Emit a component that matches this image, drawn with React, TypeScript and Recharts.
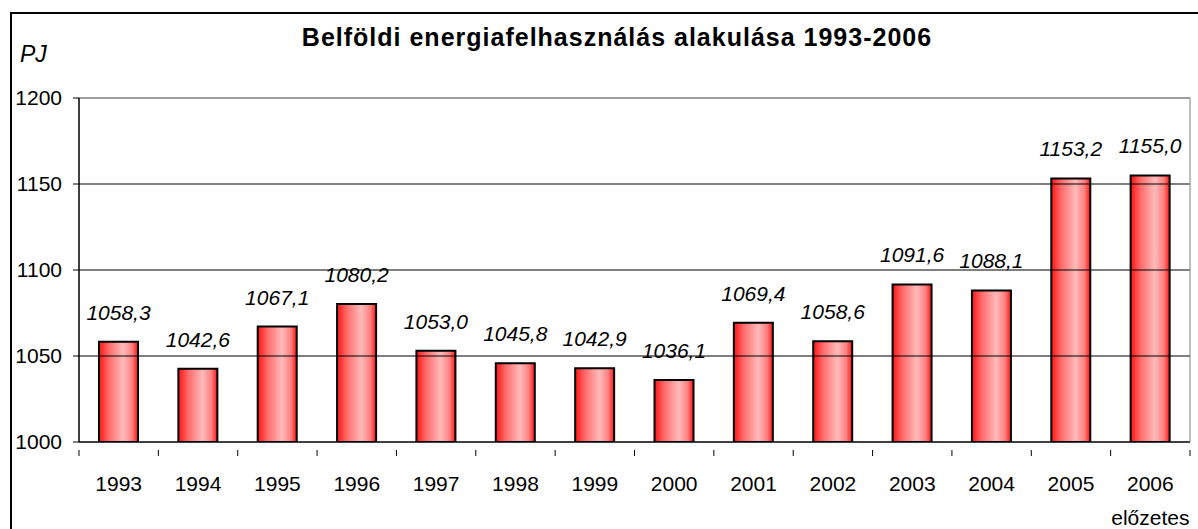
import React from "react";
import {
  BarChart,
  Bar,
  XAxis,
  YAxis,
  LabelList,
  ReferenceLine,
} from "recharts";

const YEARS = ["1993", "1994", "1995", "1996", "1997", "1998", "1999", "2000", "2001", "2002", "2003", "2004", "2005", "2006"];
const USAGE_PJ = [1058.3, 1042.6, 1067.1, 1080.2, 1053.0, 1045.8, 1042.9, 1036.1, 1069.4, 1058.6, 1091.6, 1088.1, 1153.2, 1155.0];
const NOTES = ["", "", "", "", "", "", "", "", "", "", "", "", "", "előzetes"];
const Y_TICKS = [1000, 1050, 1100, 1150, 1200];
const GRID_VALUES = [1050, 1100, 1150];

const data = YEARS.map((year, i) => ({ year, value: USAGE_PJ[i], note: NOTES[i] }));

const FONT = "'Liberation Sans', Arial, sans-serif";
const BAND = (1190 - 79) / YEARS.length;

function fmt(v: number) {
  return v.toFixed(1).replace(".", ",");
}

function YearTick(props: any) {
  const { x, y, payload, index } = props;
  const note = NOTES[index];
  const last = index === YEARS.length - 1;
  return (
    <g>
      <line x1={x - BAND / 2} x2={x - BAND / 2} y1={y} y2={y + 6} stroke="#000" />
      {last && <line x1={x + BAND / 2} x2={x + BAND / 2} y1={y} y2={y + 6} stroke="#000" />}
      <text x={x} y={y + 41} textAnchor="middle" fontSize={21} fontFamily={FONT} fill="#000">
        {payload.value}
      </text>
      {note && (
        <text x={x} y={y + 75} textAnchor="middle" fontSize={21} fontFamily={FONT} fill="#000">
          {note}
        </text>
      )}
    </g>
  );
}

function ValueLabel(props: any) {
  const { x, y, width, value } = props;
  return (
    <text
      x={x + width / 2}
      y={y - 22}
      textAnchor="middle"
      fontSize={21}
      fontStyle="italic"
      fontFamily={FONT}
      fill="#000"
    >
      {fmt(value)}
    </text>
  );
}

export default function App() {
  return (
    <div style={{ position: "absolute", left: 0, top: 0, width: 1198, height: 529, background: "#fff", overflow: "hidden", fontFamily: FONT }}>
      <div style={{ position: "absolute", left: 10, top: 12, width: 1300, height: 700, borderLeft: "2px solid #000", borderTop: "2px solid #000" }} />
      <div style={{ position: "absolute", left: 0, width: 1234, top: 23, textAlign: "center", fontSize: 25, fontWeight: "bold", letterSpacing: 1, lineHeight: "28px" }}>
        Belföldi energiafelhasználás alakulása 1993-2006
      </div>
      <div style={{ position: "absolute", left: 20, top: 41, fontSize: 23, fontStyle: "italic", lineHeight: "26px" }}>PJ</div>
      <div style={{ position: "absolute", left: 0, top: 0 }}>
        <BarChart width={1198} height={529} data={data} margin={{ top: 98, right: 0, bottom: 47, left: 0 }}>
          <defs>
            <linearGradient id="barFill" x1="0" y1="0" x2="1" y2="0">
              <stop offset="0%" stopColor="#ff1414" />
              <stop offset="25%" stopColor="#ff6a6a" />
              <stop offset="62%" stopColor="#ffbaba" />
              <stop offset="85%" stopColor="#ff8080" />
              <stop offset="100%" stopColor="#ff1414" />
            </linearGradient>
          </defs>
          <XAxis
            dataKey="year"
            height={40}
            axisLine={{ stroke: "#000", strokeWidth: 1.5 }}
            tickLine={false}
            tick={<YearTick />}
            interval={0}
          />
          <YAxis
            yAxisId="left"
            width={79}
            domain={[1000, 1200]}
            ticks={Y_TICKS}
            allowDataOverflow
            axisLine={{ stroke: "#000", strokeWidth: 1.5 }}
            tickLine={{ stroke: "#000" }}
            tickSize={6}
            tickMargin={11}
            tick={{ fontSize: 21, fill: "#000", fontFamily: FONT }}
          />
          <YAxis
            yAxisId="right"
            orientation="right"
            width={8}
            domain={[1000, 1200]}
            tick={false}
            tickLine={false}
            axisLine={{ stroke: "#808080" }}
          />
          {GRID_VALUES.map((v) => (
            <ReferenceLine key={v} yAxisId="left" y={v} stroke="#000" strokeWidth={1.2} />
          ))}
          <ReferenceLine yAxisId="left" y={1200} stroke="#808080" strokeWidth={1.5} />
          <Bar
            yAxisId="left"
            dataKey="value"
            barSize={39}
            fill="url(#barFill)"
            stroke="#000"
            strokeWidth={2}
            isAnimationActive={false}
          >
            <LabelList dataKey="value" content={<ValueLabel />} />
          </Bar>
        </BarChart>
      </div>
    </div>
  );
}
